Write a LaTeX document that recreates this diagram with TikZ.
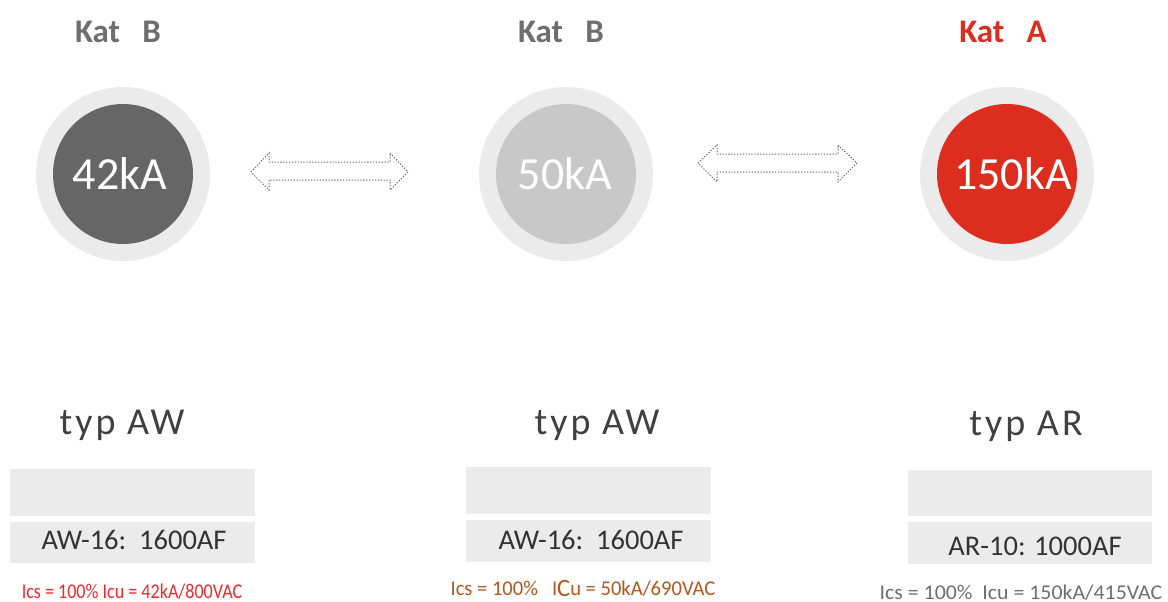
\documentclass[tikz,border=0pt]{standalone}
\usepackage{fontspec}
\setmainfont{Carlito}
\definecolor{ringgrey}{HTML}{EBEBEB}
\definecolor{darkdisc}{HTML}{666666}
\definecolor{lightdisc}{HTML}{C8C8C8}
\definecolor{katred}{HTML}{DC2D1E}
\definecolor{katgrey}{HTML}{6E6E6E}
\definecolor{typgrey}{HTML}{404040}
\definecolor{boxtext}{HTML}{333333}
\definecolor{icsred}{HTML}{F0282D}
\definecolor{icsbrown}{HTML}{B4561E}
\definecolor{icsgrey}{HTML}{6E6E6E}
\tikzset{
  ring/.style={circle, fill=ringgrey, minimum size=174pt, inner sep=0pt},
  disc/.style={circle, minimum size=140pt, inner sep=0pt},
  hollowarrow/.style={draw=black!60, line width=1pt, dash pattern=on 1.3pt off 1.6pt},
  greybox/.style={fill=ringgrey, inner sep=0pt, anchor=north west},
}
\begin{document}
\begin{tikzpicture}[x=1pt,y=-1pt]
\useasboundingbox (0,0) rectangle (1168,602);

        \begin{scope}[every node/.style={font=\fontsize{33}{33}\selectfont\bfseries}]
          \node[text=katgrey] (k1) at (118,32) {Kat~~~B};
          \node[text=katgrey] (k2) at (561,32) {Kat~~~B};
          \node[text=katred]  (k3) at (1003,32) {Kat~~~A};
        \end{scope}

        \node[ring] (r1) at (123,174) {};
        \node[ring] (r2) at (566,174) {};
        \node[ring] (r3) at (1007,174) {};
        \node[disc, fill=darkdisc]  (d1) at (r1) {};
        \node[disc, fill=lightdisc] (d2) at (r2) {};
        \node[disc, fill=katred]    (d3) at (r3) {};
        \begin{scope}[every node/.style={text=white, font=\fontsize{46}{46}\selectfont}]
          \node (v1) at ([xshift=-3pt]d1) {42kA};
          \node (v2) at ([xshift=-1pt]d2) {50kA};
          \node (v3) at ([xshift=6pt]d3) {150kA};
        \end{scope}

        \draw[hollowarrow] (251,172) -- (269,153) -- (269,162) -- (390,162) -- (390,153)
          -- (408,172) -- (390,190) -- (390,180) -- (269,180) -- (269,190) -- cycle;
        \draw[hollowarrow] (698,163) -- (717,145) -- (717,154) -- (838,154) -- (838,145)
          -- (857,163) -- (838,182) -- (838,172) -- (717,172) -- (717,182) -- cycle;

        \begin{scope}[every node/.style={text=typgrey,
            font=\fontsize{38}{38}\selectfont\addfontfeatures{LetterSpace=8}}]
          \node (t1) at (122,425) {typ AW};
          \node (t2) at (597,425) {typ AW};
          \node (t3) at (1026,426) {typ AR};
        \end{scope}

        \begin{scope}[every node/.style={greybox, minimum width=245pt}]
          \node[minimum height=47pt] (u1) at (10,469) {};
          \node[minimum height=41pt] (l1) at (10,522) {};
          \node[minimum height=47pt] (u2) at (466,467) {};
          \node[minimum height=42pt] (l2) at (466,520) {};
          \node[minimum height=46pt, minimum width=244pt] (u3) at (908,470) {};
          \node[minimum height=42pt, minimum width=244pt] (l3) at (908,522) {};
        \end{scope}

        \begin{scope}[every node/.style={text=boxtext, font=\fontsize{28.5}{28.5}\selectfont}]
          \node (b1) at (134,540) {AW-16:~~1600AF};
          \node (b2) at (591,540) {AW-16:~~1600AF};
          \node (b3) at (1035,546) {AR-10: 1000AF};
        \end{scope}

        \begin{scope}[every node/.style={font=\fontsize{21}{21}\selectfont, inner sep=0pt,
            anchor=base, transform shape}]
          \node[text=icsred, xscale=0.86]   (i1) at (132,598) {Ics = 100\% Icu = 42kA/800VAC};
          \node[text=icsbrown, xscale=0.98] (i2) at (583,595) {Ics = 100\%~~~I{\fontsize{25}{25}\selectfont\raisebox{-1.5pt}{C}}u = 50kA/690VAC};
          \node[text=icsgrey, xscale=1.04]  (i3) at (1021,599) {Ics = 100\%~~Icu = 150kA/415VAC};
        \end{scope}

      \end{tikzpicture}
\end{document}
